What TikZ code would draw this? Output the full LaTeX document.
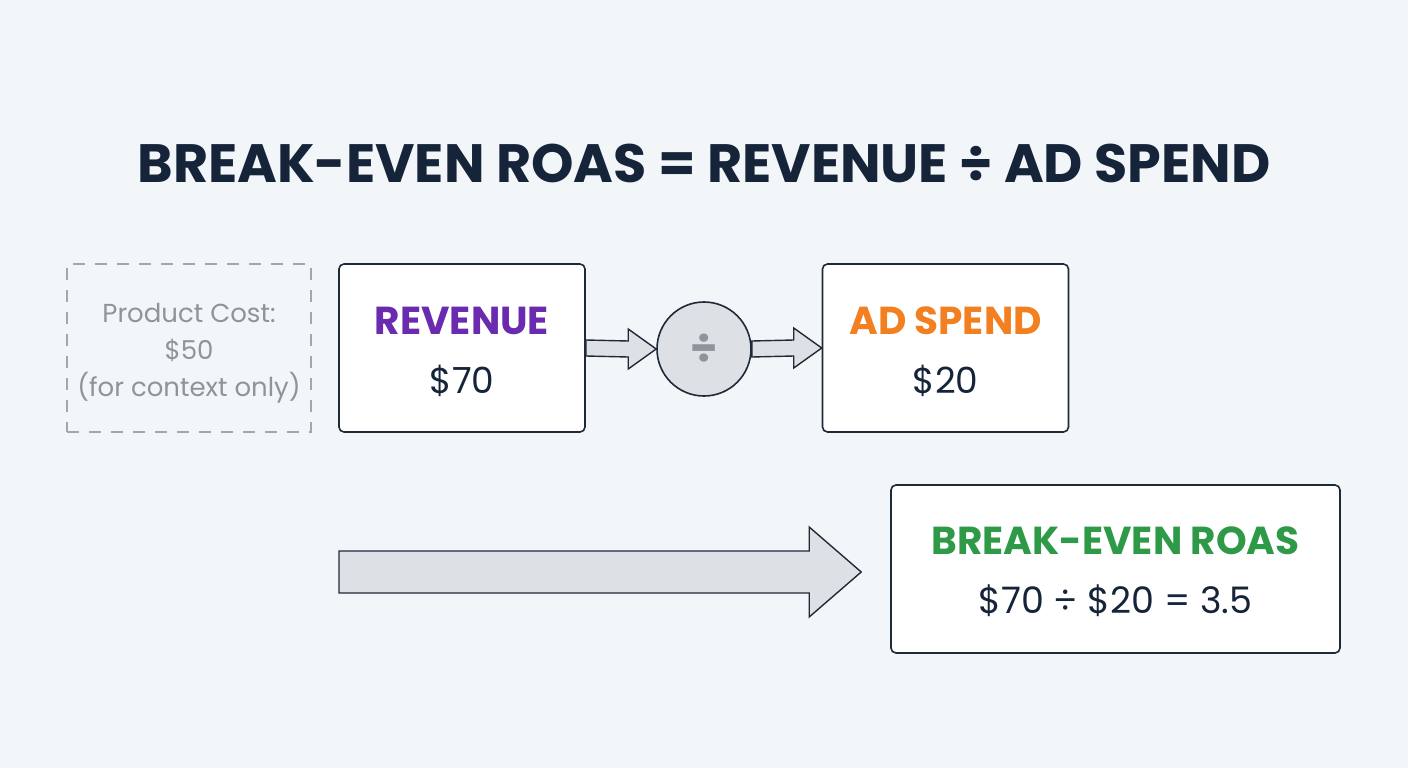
\documentclass[tikz,border=0pt]{standalone}
\usepackage{fontspec}
\setmainfont{Poppins}
\usetikzlibrary{positioning, calc}

\definecolor{bgcol}{HTML}{F3F6F8}
\definecolor{navy}{HTML}{16243A}
\definecolor{boxline}{HTML}{1E2A38}
\definecolor{revpurple}{HTML}{6A2BB0}
\definecolor{adorange}{HTML}{F28020}
\definecolor{roasgreen}{HTML}{2E9A48}
\definecolor{mutedgray}{HTML}{8E9499}
\definecolor{dashgray}{HTML}{A3A7AB}
\definecolor{arrowfill}{HTML}{DDE1E6}

\newcommand{\topgap}[1]{\rule{0pt}{#1}}

\begin{document}
\begin{tikzpicture}[
    x=1pt, y=-1pt,
    text=navy,
    box/.style={rectangle, rounded corners=5pt, draw=boxline, fill=white, line width=1.6pt,
                minimum width=246pt, minimum height=168pt, align=center, inner sep=0pt,
                font=\fontsize{36}{59}\selectfont},
    ghost/.style={rectangle, draw=dashgray, dash pattern=on 12pt off 10pt, line width=1.5pt,
                  minimum width=244pt, minimum height=168pt, align=center, inner sep=0pt,
                  text=mutedgray, font=\fontsize{26}{37}\selectfont},
    opcircle/.style={circle, draw=boxline, fill=arrowfill, line width=1.6pt, minimum size=94pt,
                     inner sep=0pt, text=mutedgray, font=\fontsize{44}{44}\selectfont\bfseries},
    blockarrow/.style={draw=boxline, fill=arrowfill, line width=1.4pt, line join=miter},
    heading/.style={font=\fontsize{54}{60}\selectfont\bfseries},
    boxhead/.style={font=\fontsize{39}{59}\selectfont\bfseries}
]

% --- fondo y margenes ---
\fill[bgcol] (0,0) rectangle (1408,768);
\useasboundingbox (0,0) rectangle (1408,768);

% --- Titulo ---
\node[heading] (title) at (704,163) {BREAK-EVEN ROAS = REVENUE ÷ AD SPEND};

% --- Cajas ---
\node[ghost] (cost) at (189,348) {\topgap{29pt}Product Cost:\\ \$50\\ (for context only)};
\node[box] (revenue) at (462,348)
    {\topgap{35pt}{\fontsize{39}{59}\selectfont\bfseries\color{revpurple}REVENUE}\\ \$70};
\node[opcircle] (divide) at (704,349) {÷};
\node[box] (adspend) at (945.5,348)
    {\topgap{35pt}{\fontsize{39}{59}\selectfont\bfseries\color{adorange}AD SPEND}\\ \$20};
\node[box, minimum width=449pt, font=\fontsize{36.5}{59}\selectfont] (roas) at (1115.5,569)
    {\topgap{33pt}{\fontsize{39}{59}\selectfont\bfseries\color{roasgreen}BREAK-EVEN ROAS}\\ \$70 ÷ \$20 = 3.5};

% --- Flechas de bloque ---
\draw[blockarrow] ($(revenue.east)+(0,-8)$) -- ($(divide.west)+(-28,-8)$) -- ($(divide.west)+(-28,-20)$)
    -- (divide.west) -- ($(divide.west)+(-28,20)$) -- ($(divide.west)+(-28,8)$)
    -- ($(revenue.east)+(0,8)$) -- cycle;
\draw[blockarrow] ($(divide.east)+(0,-8)$) -- ($(adspend.west)+(-28,-8)$) -- ($(adspend.west)+(-28,-20)$)
    -- (adspend.west) -- ($(adspend.west)+(-28,20)$) -- ($(adspend.west)+(-28,8)$)
    -- ($(divide.east)+(0,8)$) -- cycle;

\coordinate (barstart) at (339,572);
\coordinate (bartip) at ($(roas.west)+(-29,3)$);
\draw[blockarrow] ($(barstart)+(0,-21)$) -- ($(bartip)+(-52,-21)$) -- ($(bartip)+(-52,-45)$)
    -- (bartip) -- ($(bartip)+(-52,45)$) -- ($(bartip)+(-52,21)$)
    -- ($(barstart)+(0,21)$) -- cycle;

\end{tikzpicture}
\end{document}
